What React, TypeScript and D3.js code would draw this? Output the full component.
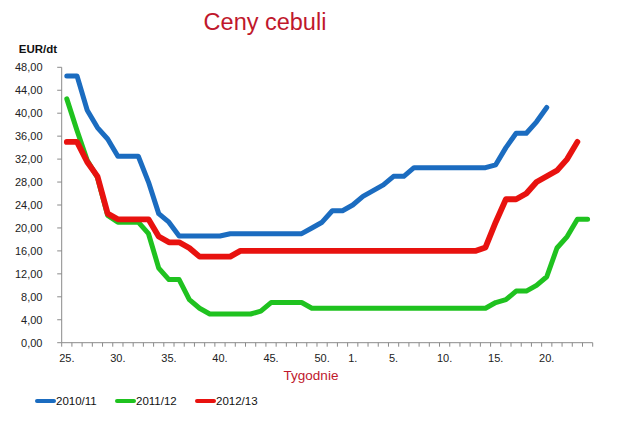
import React from 'react';
import * as d3 from 'd3';

const weeks: number[] = [
  25, 26, 27, 28, 29, 30, 31, 32, 33, 34, 35, 36, 37, 38, 39, 40, 41, 42, 43, 44, 45, 46, 47, 48, 49, 50, 51, 52,
  1, 2, 3, 4, 5, 6, 7, 8, 9, 10, 11, 12, 13, 14, 15, 16, 17, 18, 19, 20, 21, 22, 23, 24,
];

const seriesNames = ['2010/11', '2011/12', '2012/13'];
const seriesColors = ['#1b6cc0', '#1fc21f', '#e8120f'];

const prices2010: (number | null)[] = [
  46.5, 46.5, 40.5, 37.5, 35.5, 32.5, 32.5, 32.5, 28, 22.5, 21, 18.6, 18.6, 18.6, 18.6, 18.6, 19, 19, 19, 19, 19, 19, 19, 19,
  20, 21, 23, 23, 24, 25.5, 26.5, 27.5, 29, 29, 30.5, 30.5, 30.5, 30.5, 30.5, 30.5, 30.5, 30.5, 31, 34, 36.5, 36.5, 38.5, 41,
  null, null, null, null,
];
const prices2011: (number | null)[] = [
  42.5, 37, 31.8, 28.8, 22.2, 21, 21, 21, 19, 13, 11, 11, 7.5, 6, 5, 5, 5, 5, 5, 5.5, 7, 7, 7, 7,
  6, 6, 6, 6, 6, 6, 6, 6, 6, 6, 6, 6, 6, 6, 6, 6, 6, 6, 7, 7.5, 9, 9, 10, 11.5, 16.5, 18.5, 21.5, 21.5,
];
const prices2012: (number | null)[] = [
  35, 35, 31.5, 29, 22.5, 21.5, 21.5, 21.5, 21.5, 18.5, 17.5, 17.5, 16.5, 15, 15, 15, 15, 16, 16, 16, 16, 16, 16, 16,
  16, 16, 16, 16, 16, 16, 16, 16, 16, 16, 16, 16, 16, 16, 16, 16, 16, 16.6, 21, 25, 25, 26, 28, 29, 30, 32, 35,
  null,
];

const yTicks = [0, 4, 8, 12, 16, 20, 24, 28, 32, 36, 40, 44, 48];
const xLabelWeeks = [25, 30, 35, 40, 45, 50, 1, 5, 10, 15, 20];

const FONT = '"Liberation Sans", Arial, sans-serif';

export default function App() {
  const left = 61.7;
  const right = 592.7;
  const top = 67.3;
  const bottom = 342.7;

  const idx = weeks.map((_, i) => i);
  const x = d3.scaleBand<number>().domain(idx).range([left, right]).padding(0);
  const cx = (i: number) => (x(i) as number) + x.bandwidth() / 2;
  const y = d3.scaleLinear().domain([0, 48]).range([bottom, top]);

  const line = d3
    .line<number | null>()
    .defined((d) => d != null)
    .x((_, i) => cx(i))
    .y((d) => y(d as number));

  const all = [prices2010, prices2011, prices2012];
  const widths = [5, 5, 5.8];
  const fmt = (v: number) => v.toFixed(2).replace('.', ',');

  const boundaries = d3.range(weeks.length + 1).map((i) => left + i * x.bandwidth());

  const legendX = [37, 117, 197];

  return (
    <svg
      width={620}
      height={423}
      style={{ position: 'absolute', left: 0, top: 0, background: '#fff' }}
      fontFamily={FONT}
    >
      <rect x={0} y={0} width={620} height={423} fill="#fff" />
      <text x={265} y={30} textAnchor="middle" fontSize={23.5} fill="#c0182c">
        Ceny cebuli
      </text>
      <text x={38} y={53} textAnchor="middle" fontSize={11.5} fontWeight="bold" fill="#111">
        EUR/dt
      </text>

      {/* y axis */}
      <line x1={left} x2={left} y1={top} y2={bottom} stroke="#8a8a8a" strokeWidth={1} />
      {yTicks.map((t) => (
        <g key={t}>
          <line x1={left - 4.5} x2={left} y1={y(t)} y2={y(t)} stroke="#8a8a8a" strokeWidth={1} />
          <text x={42.5} y={y(t)} dy="0.36em" textAnchor="end" fontSize={11} fill="#222">
            {fmt(t)}
          </text>
        </g>
      ))}

      {/* x axis */}
      <line x1={left} x2={right} y1={bottom} y2={bottom} stroke="#8a8a8a" strokeWidth={1} />
      {boundaries.map((bx, i) => (
        <line key={i} x1={bx} x2={bx} y1={bottom} y2={bottom + 4} stroke="#8a8a8a" strokeWidth={1} />
      ))}
      {xLabelWeeks.map((w) => {
        const i = weeks.indexOf(w);
        return (
          <text key={w} x={cx(i)} y={362} textAnchor="middle" fontSize={11} fill="#222">
            {w + '.'}
          </text>
        );
      })}
      <text x={311} y={380} textAnchor="middle" fontSize={13.5} fill="#c0182c">
        Tygodnie
      </text>

      {/* lines */}
      {all.map((s, k) => (
        <path
          key={k}
          d={line(s) || ''}
          fill="none"
          stroke={seriesColors[k]}
          strokeWidth={widths[k]}
          strokeLinejoin="round"
          strokeLinecap="round"
        />
      ))}

      {/* legend */}
      {seriesNames.map((n, k) => (
        <g key={n}>
          <line
            x1={legendX[k]}
            x2={legendX[k] + 17}
            y1={401}
            y2={401}
            stroke={seriesColors[k]}
            strokeWidth={4}
            strokeLinecap="round"
          />
          <text x={legendX[k] + 19} y={401} dy="0.36em" fontSize={11.5} fill="#111">
            {n}
          </text>
        </g>
      ))}
    </svg>
  );
}
